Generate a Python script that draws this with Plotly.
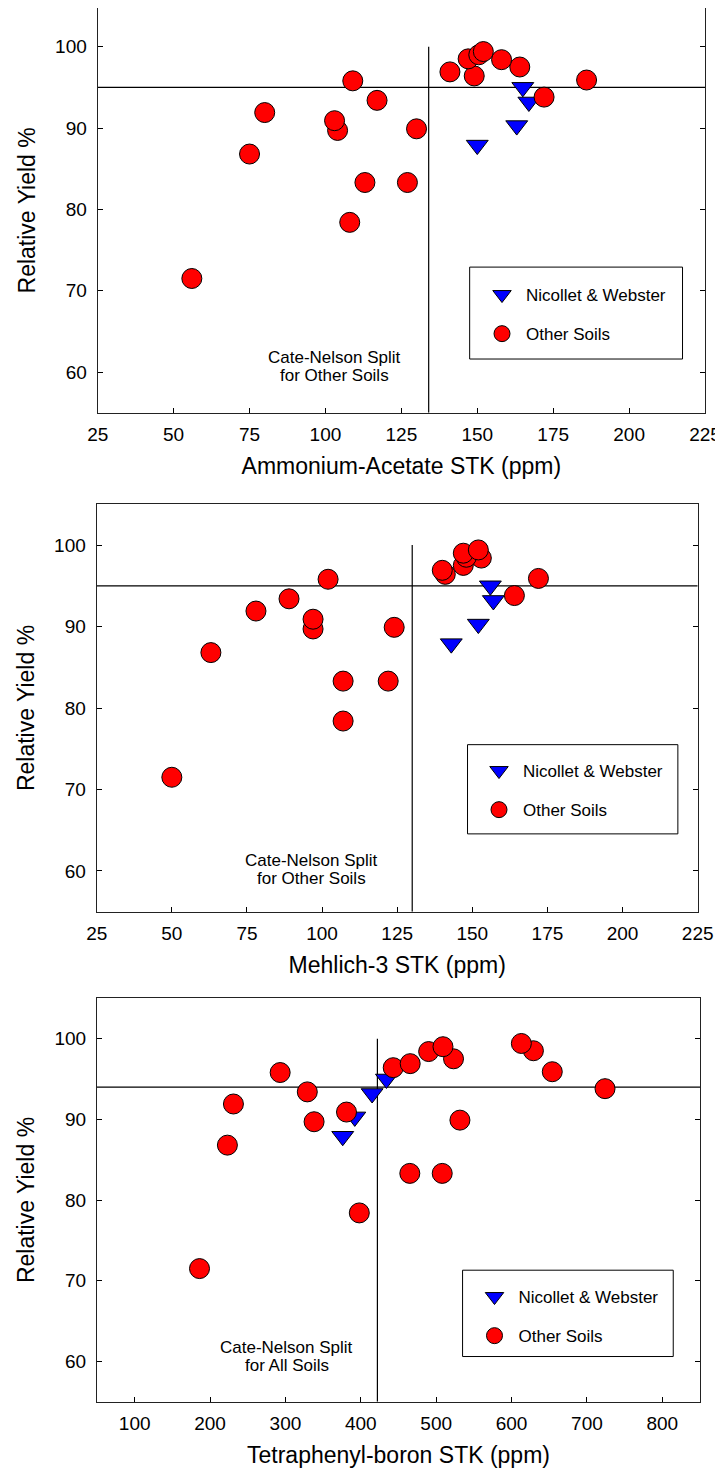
import plotly.graph_objects as go

# ---------------- data ----------------
# Relative yield (%) of the "Other Soils" sites (same site order in every panel)
other_yield = [71.5, 78.4, 83.3, 83.3, 86.8, 89.7, 89.9, 90.9, 91.9, 93.4,
               93.8, 95.8, 95.9, 96.4, 96.9, 97.5, 98.4, 98.5, 99.0, 99.4]
other_aa = [56, 108, 113, 127, 75, 104, 130, 103, 80, 117,
            172, 109, 186, 149, 141, 164, 158, 147, 150.5, 152]
other_m3 = [50, 107, 107, 122, 63, 97, 124, 97, 78, 89,
            164, 102, 172, 141, 140, 147, 153, 148, 147, 152]
other_tpb = [186, 398, 465, 508, 223, 338, 531.5, 381, 231, 329,
             724, 293, 654, 443, 465.5, 523, 490, 629, 509, 613]

# Relative yield (%) of the Nicollet & Webster sites
nw_yield = [87.9, 90.3, 95.0, 93.2]
nw_aa = [150, 163, 165, 167]
nw_m3 = [143, 152, 156, 157]
nw_tpb = [376, 392, 434, 415]

# Cate-Nelson critical values
split_aa = [134, 95]
split_m3 = [130, 95]
split_tpb = [422, 94]

x_titles = ["Ammonium-Acetate STK (ppm)", "Mehlich-3 STK (ppm)", "Tetraphenyl-boron STK (ppm)"]
notes = [["Cate-Nelson Split", "for Other Soils"],
         ["Cate-Nelson Split", "for Other Soils"],
         ["Cate-Nelson Split", "for All Soils"]]
y_ticks = [60, 70, 80, 90, 100]
x_ticks_stk = [25, 50, 75, 100, 125, 150, 175, 200, 225]
x_ticks_tpb = [100, 200, 300, 400, 500, 600, 700, 800]
legend_names = ["Nicollet & Webster", "Other Soils"]

# ---------------- layout config ----------------
OFF = 8                      # default page margin of the html body
W, H = 723 - OFF, 1469 - OFF
FONT = "Arial, Liberation Sans, sans-serif"
Y_RANGE = [55, 105]

panels = [
    dict(xo=other_aa, xn=nw_aa, split=split_aa, xr=[25, 225], xt=x_ticks_stk,
         pix=(97.7, 705, 6, 412.7), note=(103, 60.7), box=(147.5, 217.6, 61.6, 72.9),
         leg=(470, 269)),
    dict(xo=other_m3, xn=nw_m3, split=split_m3, xr=[25, 225], xt=x_ticks_stk,
         pix=(96.7, 697.7, 504.3, 911.7), note=(96.5, 60.2), box=(148.4, 218.4, 64.55, 75.5),
         leg=(467, 745)),
    dict(xo=other_tpb, xn=nw_tpb, split=split_tpb, xr=[50, 850], xt=x_ticks_tpb,
         pix=(97, 700, 998.3, 1401.7), note=(302, 60.6), box=(535, 814.5, 60.6, 71.3),
         leg=(462.5, 1271)),
]

fig = go.Figure()
shapes, annotations = [], []
for i, p in enumerate(panels):
    n = "" if i == 0 else str(i + 1)
    xa, ya = "x" + n, "y" + n
    lg = "legend" + n
    x0, x1, y0, y1 = [v - OFF for v in p["pix"]]
    # keep the vertical scale if the top edge would fall above the figure
    ppu = (y1 - y0) / (Y_RANGE[1] - Y_RANGE[0])
    y_top = Y_RANGE[1]
    if y0 < 0:
        y_top = Y_RANGE[1] - (-y0) / ppu
        y0 = 0
    fig.add_trace(go.Scatter(
        x=p["xn"], y=nw_yield, mode="markers", name=legend_names[0],
        legend=lg, legendgroup="a" + n, xaxis=xa, yaxis=ya,
        marker=dict(symbol="triangle-down", size=19, color="#0000FF",
                    line=dict(color="black", width=1))))
    fig.add_trace(go.Scatter(
        x=p["xo"], y=other_yield, mode="markers", name=legend_names[1],
        legend=lg, legendgroup="b" + n, xaxis=xa, yaxis=ya,
        marker=dict(symbol="circle", size=20, color="#FF0000",
                    line=dict(color="black", width=1))))

    axis_common = dict(ticks="inside", ticklen=5, tickwidth=1, tickcolor="black",
                       showline=True, linecolor="#222", linewidth=1.2,
                       showgrid=False, zeroline=False, automargin=False,
                       tickfont=dict(family=FONT, size=19, color="black"))
    fig.update_layout(**{
        "xaxis" + n: dict(domain=[x0 / W, x1 / W], range=p["xr"], tickvals=p["xt"],
                          mirror=True, anchor=ya, ticklabelstandoff=4,
                          title=dict(text=x_titles[i], standoff=14,
                                     font=dict(family=FONT, size=23, color="black")),
                          **axis_common),
        "yaxis" + n: dict(domain=[1 - y1 / H, 1 - y0 / H], range=[Y_RANGE[0], y_top],
                          tickvals=y_ticks,
                          mirror="ticks", anchor=xa, ticklabelstandoff=6,
                          title=dict(text="Relative Yield %", standoff=13,
                                     font=dict(family=FONT, size=23, color="black")),
                          **axis_common),
        lg: dict(x=p["leg"][0] / W, y=1 - p["leg"][1] / H, xanchor="left", yanchor="top",
                 bgcolor="rgba(0,0,0,0)", borderwidth=0, itemwidth=38,
                 tracegroupgap=14, traceorder="grouped",
                 font=dict(family=FONT, size=17, color="black")),
    })
    sx, sy = p["split"]
    shapes.append(dict(type="line", xref=xa, yref=ya, x0=p["xr"][0], x1=p["xr"][1],
                       y0=sy, y1=sy, line=dict(color="black", width=1.2), layer="below"))
    shapes.append(dict(type="line", xref=xa, yref=ya, x0=sx, x1=sx, y0=100, y1=Y_RANGE[0],
                       line=dict(color="black", width=1.2), layer="below"))
    bx0, bx1, by0, by1 = p["box"]
    shapes.append(dict(type="rect", xref=xa, yref=ya, x0=bx0, x1=bx1, y0=by0, y1=by1,
                       line=dict(color="black", width=1), layer="below"))
    nx, ny = p["note"]
    for k, line_text in enumerate(notes[i]):
        annotations.append(dict(xref=xa, yref=ya, x=nx, y=ny + (1.1 if k == 0 else -1.1),
                                text=line_text, showarrow=False, align="center",
                                font=dict(family=FONT, size=17, color="black")))

fig.update_layout(width=W, height=H, margin=dict(l=0, r=0, t=0, b=0, autoexpand=False),
                  paper_bgcolor="white", plot_bgcolor="white",
                  shapes=shapes, annotations=annotations, showlegend=True,
                  font=dict(family=FONT, color="black"))
fig.write_html("out.html")
